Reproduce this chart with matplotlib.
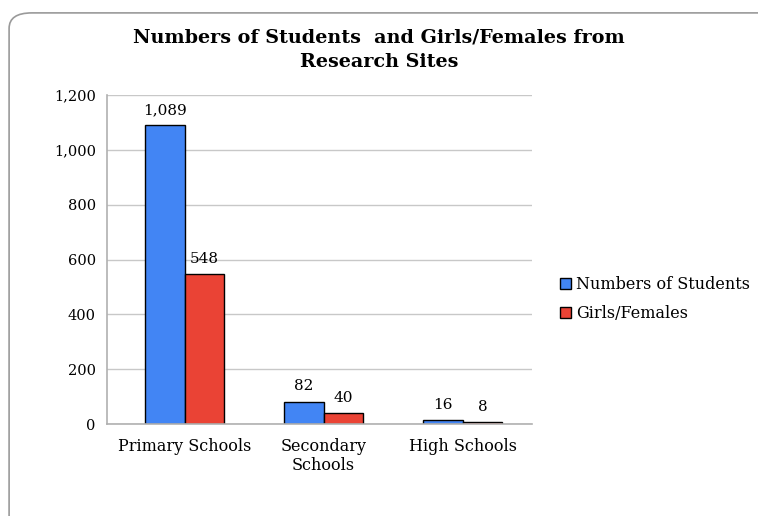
import numpy as np
import matplotlib.pyplot as plt
from matplotlib.patches import FancyBboxPatch

categories = ['Primary Schools', 'Secondary\nSchools', 'High Schools']
students = [1089, 82, 16]
girls = [548, 40, 8]
series_names = ['Numbers of Students', 'Girls/Females']

plt.rcParams['font.family'] = 'DejaVu Serif'

fig = plt.figure(figsize=(7.58, 5.16), dpi=100)
ax = fig.add_axes([0.141, 0.178, 0.561, 0.638])

# rounded frame around the chart
frame = FancyBboxPatch((0.012, -0.05), 1.05, 1.025, boxstyle='round,pad=0,rounding_size=0.03',
                       transform=fig.transFigure, facecolor='none', edgecolor='#9a9a9a', lw=1.2,
                       clip_on=False)
fig.patches.append(frame)

x = np.arange(len(categories))
w = 0.285
b1 = ax.bar(x - w / 2, students, w, color='#4285F4', edgecolor='black', lw=1, label=series_names[0])
b2 = ax.bar(x + w / 2, girls, w, color='#EA4335', edgecolor='black', lw=1, label=series_names[1])

for bars, vals in [(b1, students), (b2, girls)]:
    for bar, v in zip(bars, vals):
        ax.text(bar.get_x() + bar.get_width() / 2, v + 30, f'{v:,}', ha='center', va='bottom', fontsize=11)

ax.set_xlim(-0.56, 2.5)
ax.set_ylim(0, 1200)
ax.set_yticks(range(0, 1201, 200))
ax.set_yticklabels([f'{t:,}' for t in range(0, 1201, 200)], fontsize=10.5)
ax.set_xticks(x)
ax.set_xticklabels(categories, fontsize=11.5, linespacing=1.15)
ax.tick_params(axis='x', length=0, pad=10)
ax.tick_params(axis='y', length=0, pad=8)
ax.grid(axis='y', color='#c8c8c8', lw=1)
ax.set_axisbelow(True)
for s in ['top', 'right']:
    ax.spines[s].set_visible(False)
for s in ['left', 'bottom']:
    ax.spines[s].set_color('#b0b0b0')
    ax.spines[s].set_linewidth(1.2)

fig.text(0.5, 0.904, 'Numbers of Students  and Girls/Females from\nResearch Sites', ha='center', va='center',
         fontsize=13.8, fontweight='bold', linespacing=1.5)

fig.legend(loc='center left', bbox_to_anchor=(0.72, 0.42), frameon=False, fontsize=11.5,
           handlelength=0.7, handleheight=0.7, handletextpad=0.3, labelspacing=0.75)

fig.savefig('out.png', dpi=100)
